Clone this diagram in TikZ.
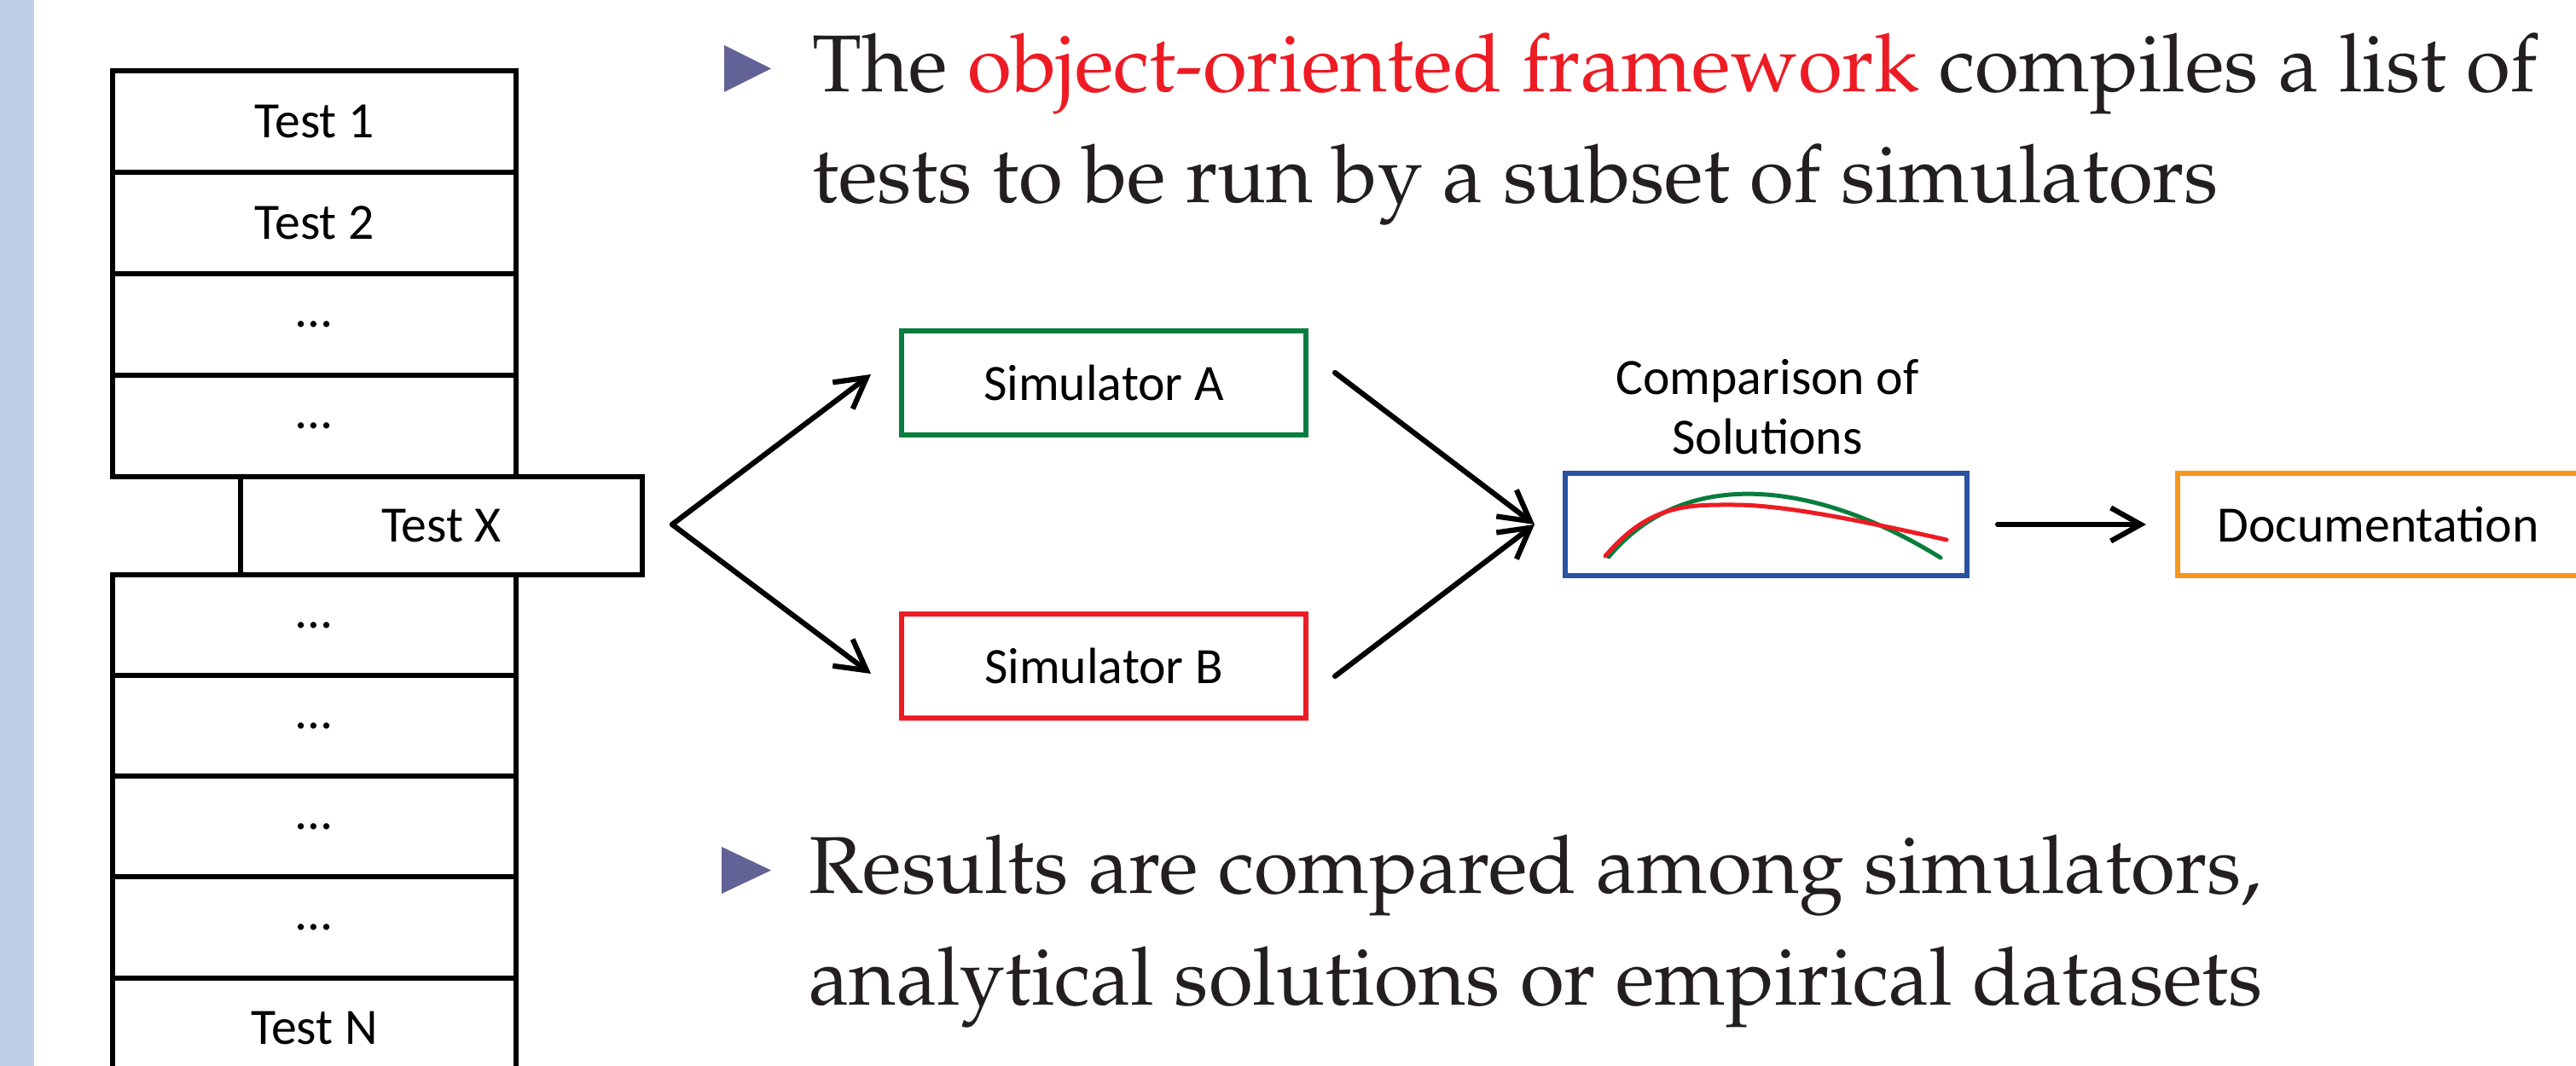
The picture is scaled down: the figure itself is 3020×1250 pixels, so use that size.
\documentclass[tikz,border=0pt]{standalone}
\usepackage[T1]{fontenc}
\usepackage{fontspec}
\newfontfamily\calfont{Carlito}
\newcommand{\palfont}{\fontencoding{T1}\fontfamily{ppl}\selectfont}
\usetikzlibrary{arrows.meta}
\definecolor{barblue}{RGB}{190,206,232}
\definecolor{bulletc}{RGB}{98,98,150}
\definecolor{simgreen}{RGB}{8,125,62}
\definecolor{simred}{RGB}{237,28,36}
\definecolor{compblue}{RGB}{42,82,162}
\definecolor{docorange}{RGB}{247,150,30}
\definecolor{hlred}{RGB}{237,28,36}
\definecolor{txtdark}{RGB}{35,31,32}
\tikzset{
  box/.style={draw, line width=0.58mm, inner sep=0pt, font=\calfont\fontsize{17}{20.5}\selectfont, text=black},
  cell/.style={box, minimum width=47.3mm, minimum height=11.9mm},
  simbox/.style={box, minimum width=47.4mm, minimum height=12.2mm},
  arr/.style={line width=0.62mm, line cap=round, line join=round, -{Straight Barb[length=3.5mm,width=3.9mm]}},
  bigtxt/.style={inner sep=0pt, anchor=base west, font=\palfont\fontsize{26.9}{37}\selectfont, text=txtdark},
  lbl/.style={inner sep=0pt, align=center, font=\calfont\fontsize{17}{19.9}\selectfont, text=black},
  curve/.style={line width=0.5mm, line cap=round}
}
\begin{document}
\begin{tikzpicture}[x=0.1mm,y=-0.1mm]
\clip (0,0) rectangle (3020,1250);
\fill[white] (0,0) rectangle (3020,1250);
\fill[barblue] (0,0) rectangle (40,1250);

% test stack
\node[cell] (t1) at (368.5,142.5) {Test 1};
\node[cell] (t2) at (368.5,261.5) {Test 2};
\node[cell] (t3) at (368.5,380.5) {\dots};
\node[cell] (t4) at (368.5,499.5) {\dots};
\node[box, minimum width=47.1mm, minimum height=11.5mm] (tx) at (517.5,616.5) {Test X};
\node[cell, minimum height=11.8mm] (t5) at (368.5,733) {\dots};
\node[cell, minimum height=11.8mm] (t6) at (368.5,851) {\dots};
\node[cell, minimum height=11.8mm] (t7) at (368.5,969) {\dots};
\node[cell, minimum height=11.8mm] (t8) at (368.5,1087.5) {\dots};
\node[cell, minimum height=11.8mm] (tn) at (368.5,1206) {Test N};

% simulators
\node[simbox, draw=simgreen] (sa) at (1294,449) {Simulator A};
\node[simbox, draw=simred] (sb) at (1294,781) {Simulator B};

% comparison
\node[box, draw=compblue, minimum width=47.1mm, minimum height=12mm] (cmp) at (2070.5,615) {};
\node[lbl] (cmplbl) at (2072,477) {Comparison of\\Solutions};
\draw[curve, simgreen] (1886,653) .. controls (1980,540) and (2140,570) .. (2275,654);
\draw[curve, simred] (1882,652) .. controls (1935,590) and (1980,592) .. (2033,592)
   .. controls (2090,592) and (2180,610) .. (2282,633);

% documentation
\node[box, draw=docorange, minimum width=47mm, minimum height=12mm] (doc) at (2788,615) {Documentation};

% connectors
\coordinate (fork) at (788,615);
\coordinate (ina) at (1021,439);
\coordinate (inb) at (1021,790);
\coordinate (outa) at (1565,437);
\coordinate (outb) at (1565,793);
\coordinate (merge) at (1799,615);
\coordinate (cmpout) at (2342,615);
\coordinate (docin) at (2516,615);
\draw[arr] (fork) -- (ina);
\draw[arr] (fork) -- (inb);
\draw[arr] (outa) -- (merge);
\draw[arr] (outb) -- (merge);
\draw[arr] (cmpout) -- (docin);

% bullets
\fill[bulletc] (849,53) -- (904,80.5) -- (849,108) -- cycle;
\fill[bulletc] (846,993) -- (904,1020.5) -- (846,1048) -- cycle;
\node[bigtxt] (b1a) at (952,108) {The \textcolor{hlred}{object-oriented framework} compiles a list of};
\node[bigtxt] (b1b) at (952,238) {tests to be run by a subset of simulators};
\node[bigtxt] (b2a) at (948,1048) {Results are compared among simulators,};
\node[bigtxt] (b2b) at (948,1178) {analytical solutions or empirical datasets};
\end{tikzpicture}
\end{document}
